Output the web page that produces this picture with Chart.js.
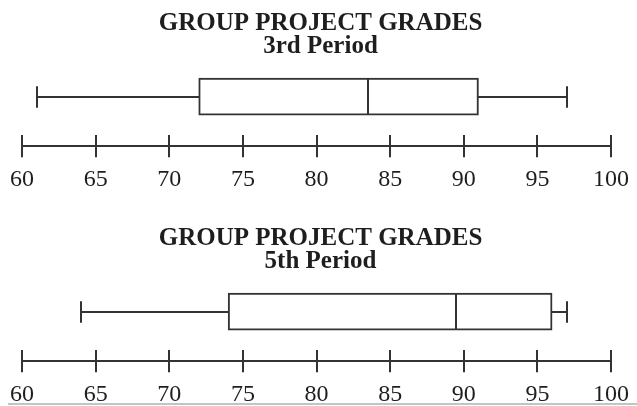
<!DOCTYPE html>
<html>
<head>
<meta charset="utf-8">
<script src="https://cdn.jsdelivr.net/npm/chart.js@4/dist/chart.umd.min.js"></script>
<style>
  html, body { margin: 0; padding: 0; background: #fff; overflow: hidden; }
  .plot { position: absolute; left: 0; width: 637px; height: 215px; }
  #plot3 { top: 0; }
  #plot5 { top: 215px; }
  .rule { position: absolute; left: 8px; right: 0; top: 403px; height: 2px; background: #c4c4c4; }
</style>
</head>
<body>
<div class="plot" id="plot3"><canvas id="chart3" width="637" height="215"></canvas></div>
<div class="plot" id="plot5"><canvas id="chart5" width="637" height="215"></canvas></div>
<div class="rule"></div>

<script>
const chartTitle = 'GROUP PROJECT GRADES';
const periods = ['3rd Period', '5th Period'];
const minimums = [61, 64];
const firstQuartiles = [72, 74];
const medians = [83.5, 89.5];
const thirdQuartiles = [91, 96];
const maximums = [97, 97];
const tickValues = [60, 65, 70, 75, 80, 85, 90, 95, 100];

const INK = '#333';
const TEXT = '#1e1e1e';
const SERIF = "'Liberation Serif', 'Times New Roman', serif";
const TICK_LEN = 22;

// median line and whiskers, placed from the box element and the x scale
const boxWhiskers = {
  id: 'boxWhiskers',
  afterDatasetsDraw(chart, args, opts) {
    const bar = chart.getDatasetMeta(0).data[0];
    if (!bar) return;
    const { y, height } = bar.getProps(['y', 'height'], true);
    const x = chart.scales.x;
    const ctx = chart.ctx;
    const top = y - height / 2;
    const bottom = y + height / 2;
    const cap = height * 0.29;
    const px = (v) => Math.round(x.getPixelForValue(v));
    const cy = Math.round(y);

    ctx.save();
    ctx.strokeStyle = INK;
    ctx.lineWidth = 2;
    ctx.beginPath();
    ctx.moveTo(px(opts.median), top);
    ctx.lineTo(px(opts.median), bottom);
    ctx.moveTo(px(opts.min), cy);
    ctx.lineTo(px(opts.q1), cy);
    ctx.moveTo(px(opts.q3), cy);
    ctx.lineTo(px(opts.max), cy);
    ctx.moveTo(px(opts.min), cy - cap);
    ctx.lineTo(px(opts.min), cy + cap);
    ctx.moveTo(px(opts.max), cy - cap);
    ctx.lineTo(px(opts.max), cy + cap);
    ctx.stroke();
    ctx.restore();
  }
};

// number line running through the middle of the tick marks
const numberLine = {
  id: 'numberLine',
  afterDraw(chart) {
    const x = chart.scales.x;
    const ctx = chart.ctx;
    const y = Math.round(x.top + TICK_LEN / 2);
    ctx.save();
    ctx.strokeStyle = INK;
    ctx.lineWidth = 2;
    ctx.beginPath();
    ctx.moveTo(x.getPixelForValue(tickValues[0]), y);
    ctx.lineTo(x.getPixelForValue(tickValues[tickValues.length - 1]), y);
    ctx.stroke();
    ctx.restore();
  }
};

function makeBoxPlot(canvasId, i) {
  return new Chart(document.getElementById(canvasId), {
    type: 'bar',
    data: {
      labels: [periods[i]],
      datasets: [{
        data: [[firstQuartiles[i], thirdQuartiles[i]]],
        backgroundColor: '#fff',
        borderColor: INK,
        borderWidth: 2,
        borderSkipped: false,
        barThickness: 37
      }]
    },
    options: {
      indexAxis: 'y',
      responsive: false,
      animation: false,
      events: [],
      layout: { padding: { left: 22, right: 18, top: 0, bottom: 13 } },
      plugins: {
        legend: { display: false },
        tooltip: { enabled: false },
        title: {
          display: true,
          text: chartTitle,
          color: TEXT,
          font: { family: SERIF, size: 25, weight: 'bold', lineHeight: 0.9 },
          padding: { top: 12, bottom: 0 }
        },
        subtitle: {
          display: true,
          text: periods[i],
          color: TEXT,
          font: { family: SERIF, size: 25, weight: 'bold', lineHeight: 0.9 },
          padding: { top: 1, bottom: 0 }
        },
        boxWhiskers: {
          min: minimums[i],
          q1: firstQuartiles[i],
          median: medians[i],
          q3: thirdQuartiles[i],
          max: maximums[i]
        }
      },
      scales: {
        x: {
          type: 'linear',
          min: tickValues[0],
          max: tickValues[tickValues.length - 1],
          afterBuildTicks: (scale) => { scale.ticks = tickValues.map(v => ({ value: v })); },
          border: { display: false },
          grid: {
            display: true,
            drawOnChartArea: false,
            drawTicks: true,
            tickLength: TICK_LEN,
            color: INK,
            lineWidth: 2
          },
          ticks: {
            padding: 8,
            color: TEXT,
            maxRotation: 0,
            font: { family: SERIF, size: 24 }
          }
        },
        y: { display: false }
      }
    },
    plugins: [boxWhiskers, numberLine]
  });
}

makeBoxPlot('chart3', 0);
makeBoxPlot('chart5', 1);
</script>
</body>
</html>
